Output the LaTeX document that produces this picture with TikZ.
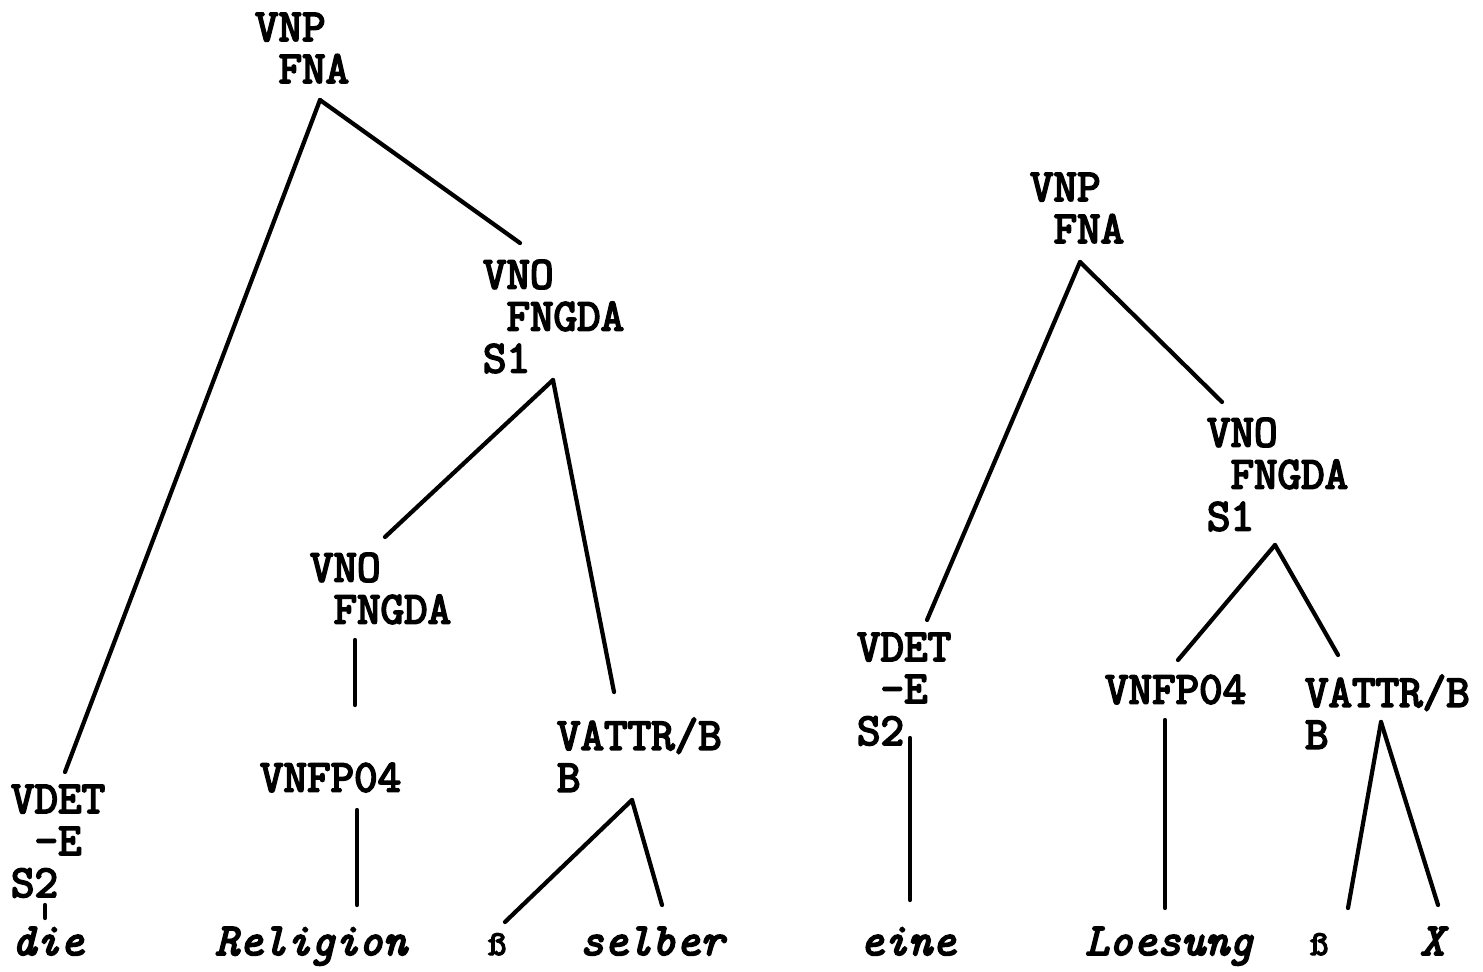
\documentclass[tikz,border=0pt]{standalone}
\usepackage{fontspec}
\newfontfamily\typewriter{Latin Modern Mono}[FakeBold=4]

\begin{document}
\begin{tikzpicture}[
            x = 0.02cm,
            y = -0.02cm,
            lbl/.style = {
                anchor = north west,
                align = left,
                inner sep = 0pt,
                outer sep = 0pt,
                font = \typewriter\fontsize{26}{23.9}\selectfont
            },
            word/.style = {
                anchor = base west,
                inner sep = 0pt,
                outer sep = 0pt,
                font = \typewriter\itshape\fontsize{26}{23.9}\selectfont
            },
            sz/.style = {
                word,
                font = \typewriter\fontsize{20}{20}\selectfont
            },
            branch/.style = {line width = 2.4pt, line cap = round}
            ]
            \useasboundingbox (0,0) rectangle (1483,972);

            % left tree
            \node[lbl] (np1) at (255,13) {VNP\\\hphantom{V}FNA};
            \node[lbl] (no1) at (483,260) {VNO\\\hphantom{V}FNGDA\\S1};
            \node[lbl] (no2) at (310,553) {VNO\\\hphantom{V}FNGDA};
            \node[lbl] (fp1) at (260,763) {VNFP04};
            \node[lbl] (at1) at (557,718) {VATTR/B\\B};
            \node[lbl] (det1) at (11,785) {VDET\\\hphantom{V}-E\\S2};
            \node[word] (die) at (12,955) {die};
            \node[word] (religion) at (215,955) {Religion};
            \node[sz] (sz1) at (488,955) {ß};
            \node[word] (selber) at (580,955) {selber};

            \draw[branch] ([shift={(65,87)}]np1.north west) -- ([shift={(54,-13)}]det1.north west);
            \draw[branch] ([shift={(65,87)}]np1.north west) -- ([shift={(37,-17)}]no1.north west);
            \draw[branch] ([shift={(70,120)}]no1.north west) -- ([shift={(75,-16)}]no2.north west);
            \draw[branch] ([shift={(70,120)}]no1.north west) -- ([shift={(57,-26)}]at1.north west);
            \draw[branch] ([shift={(45,87)}]no2.north west) -- ([shift={(95,-58)}]fp1.north west);
            \draw[branch] ([shift={(97,47)}]fp1.north west) -- ([shift={(142,-50)}]religion.base west);
            \draw[branch] ([shift={(75,82)}]at1.north west) -- ([shift={(17,-33)}]sz1.base west);
            \draw[branch] ([shift={(75,82)}]at1.north west) -- ([shift={(82,-50)}]selber.base west);
            \draw[branch] ([shift={(34,120)}]det1.north west) -- ([shift={(33,-37)}]die.base west);

            % right tree
            \node[lbl] (np2) at (1030,173) {VNP\\\hphantom{V}FNA};
            \node[lbl] (no3) at (1207,418) {VNO\\\hphantom{V}FNGDA\\S1};
            \node[lbl] (det2) at (857,633) {VDET\\\hphantom{V}-E\\S2};
            \node[lbl] (fp2) at (1105,675) {VNFP04};
            \node[lbl] (at2) at (1305,675) {VATTR/B\\B};
            \node[word] (eine) at (860,955) {eine};
            \node[word] (loesung) at (1085,955) {Loesung};
            \node[sz] (sz2) at (1310,955) {ß};
            \node[word] (xx) at (1420,955) {X};

            \draw[branch] ([shift={(50,89)}]np2.north west) -- ([shift={(70,-13)}]det2.north west);
            \draw[branch] ([shift={(50,89)}]np2.north west) -- ([shift={(15,-16)}]no3.north west);
            \draw[branch] ([shift={(68,127)}]no3.north west) -- ([shift={(73,-15)}]fp2.north west);
            \draw[branch] ([shift={(68,127)}]no3.north west) -- ([shift={(33,-20)}]at2.north west);
            \draw[branch] ([shift={(53,105)}]det2.north west) -- ([shift={(50,-55)}]eine.base west);
            \draw[branch] ([shift={(60,45)}]fp2.north west) -- ([shift={(80,-47)}]loesung.base west);
            \draw[branch] ([shift={(76,47)}]at2.north west) -- ([shift={(38,-47)}]sz2.base west);
            \draw[branch] ([shift={(76,47)}]at2.north west) -- ([shift={(18,-50)}]xx.base west);
\end{tikzpicture}
\end{document}
